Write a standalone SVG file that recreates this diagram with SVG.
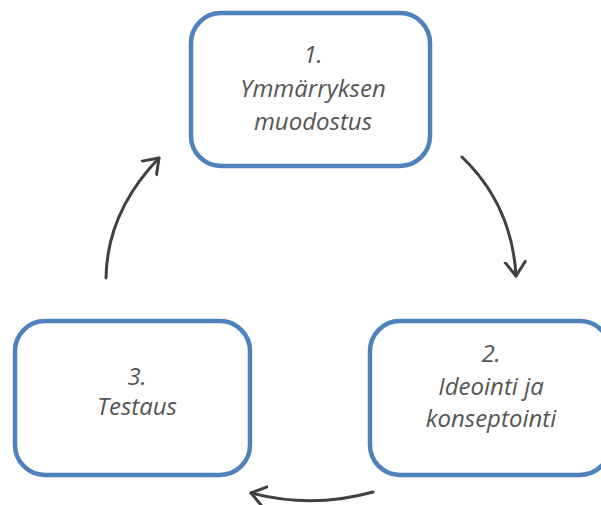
<svg xmlns="http://www.w3.org/2000/svg" width="601" height="505" viewBox="0 0 601 505">
<style>
.box{fill:#fff;stroke:#4f81bd;stroke-width:4.5}
.lbl{font-family:"Open Sans","Liberation Sans",sans-serif;font-style:italic;font-weight:400;font-size:24px;fill:#555;text-anchor:middle}
.conn{fill:none;stroke:#404040;stroke-width:3;stroke-linecap:round}
</style>
<defs>
<marker id="ah" markerUnits="userSpaceOnUse" markerWidth="30" markerHeight="30" refX="15" refY="15" orient="auto">
<path d="M1,5 L15,15 L1,25" fill="none" stroke="#404040" stroke-width="3" stroke-linecap="round" stroke-linejoin="round"/>
</marker>
</defs>
<g id="node1">
<rect class="box" x="191" y="13" width="239" height="153" rx="30"/>
<text class="lbl" x="313" y="63">1.</text>
<text class="lbl" x="313" y="97">Ymmärryksen</text>
<text class="lbl" x="313" y="130">muodostus</text>
</g>
<g id="node2">
<rect class="box" x="370" y="321" width="240" height="154" rx="30"/>
<text class="lbl" x="491" y="362">2.</text>
<text class="lbl" x="491" y="395">Ideointi ja</text>
<text class="lbl" x="491" y="427">konseptointi</text>
</g>
<g id="node3">
<rect class="box" x="15" y="321" width="235" height="154" rx="30"/>
<text class="lbl" x="137" y="385">3.</text>
<text class="lbl" x="137" y="415">Testaus</text>
</g>
<g id="connectors">
<path class="conn" d="M462,157 Q512,205 516,276" marker-end="url(#ah)"/>
<path class="conn" d="M373,492 Q312,509 251,493" marker-end="url(#ah)"/>
<path class="conn" d="M106,278 Q107,212 159,158" marker-end="url(#ah)"/>
</g>
</svg>
